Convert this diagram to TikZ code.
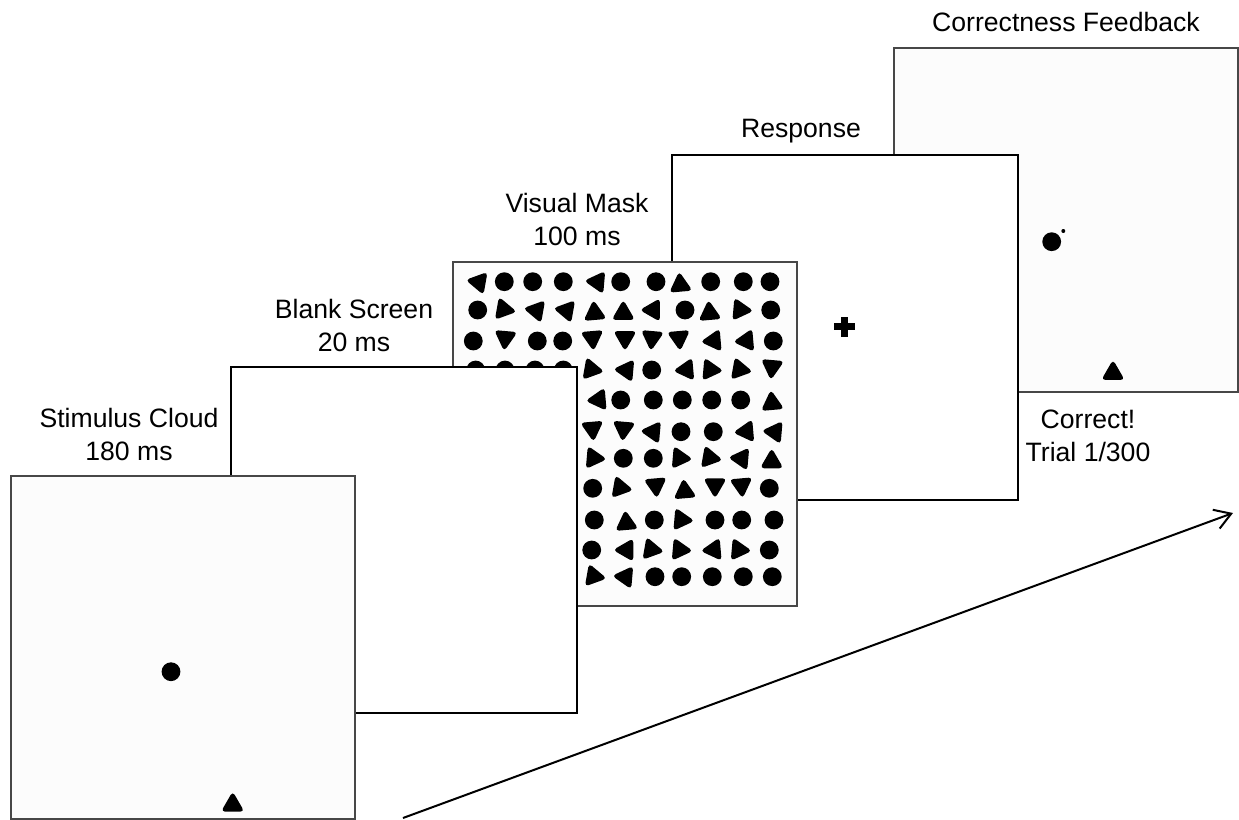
\documentclass[tikz,border=0pt]{standalone}
\usepackage{fontspec}
\setmainfont{Liberation Sans}
\usetikzlibrary{arrows.meta}
\tikzset{
  imgscreen/.style={draw=black!72, line width=1pt, fill=black!1},
  plainscreen/.style={draw=black, line width=1pt, fill=white},
  lbl/.style={font=\fontsize{13.3}{16.5}\selectfont, align=center, inner sep=0pt},
  stimdot/.style={fill=black},
  timearrow/.style={draw=black, line width=1pt, -{Straight Barb[length=8pt,width=10pt,line width=1pt]}}
}
\newcommand{\stimcirc}[2]{\fill[stimdot] (#1,#2) circle[radius=9.4];}
\newcommand{\stimtri}[3]{%
  \begin{scope}[shift={(#1,#2)}, shift={(-#3-180:3.2)}]
    \fill[stimdot, rounded corners=2pt] (-#3:13.5) -- (-#3-120:13.5) -- (-#3-240:13.5) -- cycle;
  \end{scope}}
\begin{document}
\begin{tikzpicture}[x=0.5pt, y=-0.5pt]
\useasboundingbox (0,0) rectangle (1239,820);
\fill[white] (0,0) rectangle (1239,820);

% Correctness feedback screen (back)
\draw[imgscreen] (894,48) rectangle (1238,392);
\stimcirc{1051.7}{241.7}
\fill[stimdot] (1063.3,231) circle[radius=2];
\stimtri{1113}{370}{90}
\node[lbl, anchor=base] (lfeed) at (1066,31.7) {Correctness Feedback};
\node[lbl] (lcorrect) at (1088,436) {Correct!\\Trial 1/300};

% Response screen
\draw[plainscreen] (672,155) rectangle (1018,500);
\fill (834,323.2) rectangle (854.6,330.2);
\fill (840.8,316.6) rectangle (847.8,337);
\node[lbl, anchor=base] (lresp) at (801,137.5) {Response};

% Visual mask screen
\draw[imgscreen] (453,262) rectangle (797,606);
\foreach \x/\y in {504.3/281.7, 532.7/281.7, 563.3/281.7, 620.7/281.7, 656/281.7, 710.7/281.7, 743.3/281.7, 770/281.7,
  477.7/310, 685/310, 770.7/310,
  473.3/341, 537.3/341, 562.7/341, 773.3/341,
  475.7/370, 505/370, 535/370, 563.3/370, 651.7/370,
  620.7/400, 653.3/400, 682.3/400, 711.7/400, 740.7/400,
  681/431.7, 713.3/431.7,
  623.3/458.3, 653.3/458.3,
  592.7/488.3, 769.3/488.3,
  594.3/520, 654.3/520, 715/520, 741.7/520, 774/520,
  591.7/550, 769.3/550,
  655/576.7, 681.7/576.7, 712.3/576.7, 743.3/576.7, 772.3/576.7}
  {\stimcirc{\x}{\y}}
\foreach \x/\y/\a in {475.7/281.7/170, 594.3/281.7/175, 680/281.7/95,
  506.7/310/-10, 533.3/310/170, 563.3/310/170, 594.3/310/95, 623.3/310/90, 650/310/180, 709.3/310/95, 743.3/310/-5,
  505/341/265, 592.7/341/275, 625/341/270, 651.7/341/265, 679.3/341/275, 710.7/341/185, 743.3/341/185,
  594.3/370/-10, 623.3/370/175, 683.3/370/185, 713.3/370/-5, 742.7/370/-10, 771.7/370/265,
  595.7/400/185, 771.7/400/95,
  592.7/431.7/275, 623.3/431.7/265, 650/431.7/175, 743.3/431.7/185, 771.7/431.7/175,
  596.7/458.3/-5, 682.7/458.3/-5, 712.7/458.3/-10, 738.3/458.3/175, 771.7/458.3/90,
  623.3/488.3/-10, 656/488.3/275, 684.3/488.3/95, 715/488.3/270, 741.7/488.3/275,
  626/520/95, 684.3/520/-5,
  623.3/550/180, 654.3/550/-10, 682.7/550/-5, 710.7/550/185, 741.7/550/-5,
  596.7/576.7/-10, 622.3/576.7/175}
  {\stimtri{\x}{\y}{\a}}
\node[lbl] (lmask) at (577,219.5) {Visual Mask\\100 ms};

% Blank screen
\draw[plainscreen] (231,367) rectangle (577,713);
\node[lbl] (lblank) at (354,325.5) {Blank Screen\\20 ms};

% Stimulus cloud screen (front)
\draw[imgscreen] (11,476) rectangle (355,819);
\stimcirc{171}{671.7}
\stimtri{232.7}{801.7}{90}
\node[lbl] (lstim) at (129,434) {Stimulus Cloud\\180 ms};

% Time arrow
\coordinate (tstart) at (403,818);
\coordinate (tend) at (1233,513);
\draw[timearrow] (tstart) -- (tend);
\end{tikzpicture}
\end{document}
